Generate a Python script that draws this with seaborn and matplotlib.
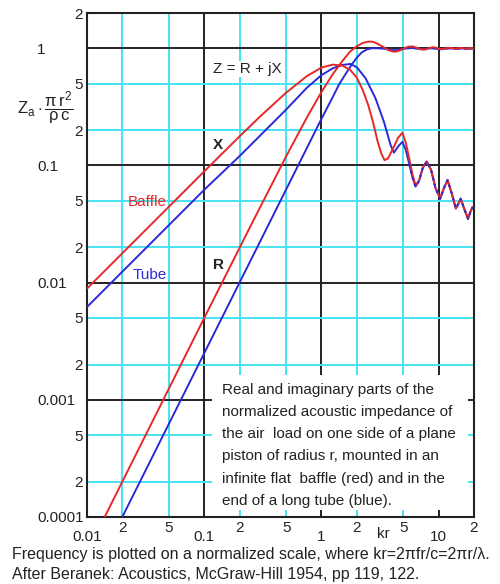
import numpy as np
import pandas as pd
import matplotlib
matplotlib.use("Agg")
import matplotlib.pyplot as plt
import seaborn as sns
from matplotlib.patches import Rectangle

# ---------------- data ----------------
kr_baffle_R = [0.01, 0.05, 0.1, 0.25, 0.5, 0.75, 1.0, 1.25, 1.5, 1.75, 2.0, 2.25, 2.5,
               2.75, 3.0, 3.25, 3.5, 3.75, 4.0, 4.25, 4.5, 4.75, 5.0, 5.5, 6.0, 6.5,
               7.0, 7.5, 8.0, 8.5, 9.0, 9.5, 10.0, 10.5, 11.0, 12.0, 13.0, 14.0, 15.0,
               16.0, 17.0, 18.0, 19.0, 20.0]
R_baffle = [0.00005, 0.00125, 0.005, 0.0308, 0.1198, 0.2561, 0.4233, 0.6023, 0.7739,
            0.935, 1.04, 1.11, 1.14, 1.135, 1.095, 1.047, 1.001, 0.964, 0.941, 0.936,
            0.945, 0.966, 0.991, 1.032, 1.037, 1.011, 0.981, 0.973, 0.989, 1.011, 1.021,
            1.011, 0.994, 0.984, 0.989, 1.013, 0.999, 0.991, 1.008, 1.002, 0.992, 1.005,
            1.003, 0.994]

kr_tube_R = [0.01, 0.1, 0.5, 1.0, 1.25, 1.41, 1.6, 1.8, 2.0, 2.2, 2.45, 2.7, 3.0, 3.5,
             3.9, 4.4, 4.9, 5.5, 6.0, 6.6, 7.5, 8.5, 9.5, 10.5, 11.5, 13.0, 14.0, 15.0,
             16.0, 17.0, 18.0, 19.0, 20.0]
R_tube = [0.000025, 0.0025, 0.0625, 0.25, 0.385, 0.49, 0.6, 0.72, 0.83, 0.92, 0.98, 1.0,
          1.0, 0.99, 0.965, 0.965, 0.985, 1.0, 1.005, 0.99, 0.985, 1.0, 0.99, 0.98, 0.99,
          1.0, 0.985, 0.99, 1.0, 0.985, 0.99, 0.99, 0.995]

kr_baffle_X = [0.01, 0.1, 0.2, 0.3, 0.5, 0.75, 1.0, 1.25, 1.5, 1.75, 2.0, 2.25, 2.5, 2.75,
               3.0, 3.25, 3.45, 3.7, 4.15, 4.5, 4.9, 5.25, 5.6, 6.0, 6.35, 6.8, 7.3, 7.9,
               8.6, 9.4, 10.3, 11.0, 11.9, 12.9, 14.0, 14.7, 15.4, 16.6, 17.8, 18.6, 19.4]
X_baffle = [0.0089, 0.089, 0.177, 0.262, 0.418, 0.578, 0.685, 0.725, 0.712, 0.657, 0.562,
            0.44, 0.33, 0.235, 0.163, 0.125, 0.111, 0.115, 0.145, 0.172, 0.19, 0.155,
            0.115, 0.082, 0.068, 0.074, 0.095, 0.108, 0.092, 0.064, 0.052, 0.063, 0.075,
            0.058, 0.043, 0.047, 0.052, 0.042, 0.035, 0.040, 0.044]

kr_tube_X = [0.01, 0.1, 0.2, 0.3, 0.5, 0.75, 1.0, 1.25, 1.5, 1.77, 2.0, 2.38, 2.89, 3.41,
             3.89, 4.15, 4.5, 4.9, 5.25, 5.6, 6.0, 6.35, 6.8, 7.3, 7.9, 8.6, 9.4, 10.3,
             11.0, 11.9, 12.9, 14.0, 14.7, 15.4, 16.6, 17.8, 18.6, 19.4]
X_tube = [0.0062, 0.062, 0.12, 0.18, 0.3, 0.46, 0.59, 0.675, 0.72, 0.735, 0.69, 0.554,
          0.374, 0.236, 0.149, 0.1285, 0.145, 0.159, 0.135, 0.103, 0.078, 0.066, 0.074,
          0.095, 0.108, 0.092, 0.064, 0.052, 0.063, 0.075, 0.058, 0.043, 0.047, 0.052,
          0.042, 0.035, 0.040, 0.044]

x_major = [0.01, 0.1, 1, 10]
x_major_labels = ["0.01", "0.1", "1", "10"]
x_minor = [0.02, 0.05, 0.2, 0.5, 2, 5, 20]
x_minor_labels = ["2", "5", "2", "5", "2", "5", "2"]
y_major = [1e-4, 1e-3, 1e-2, 1e-1, 1]
y_major_labels = ["0.0001", "0.001", "0.01", "0.1", "1"]
y_minor = [2e-4, 5e-4, 2e-3, 5e-3, 2e-2, 5e-2, 0.2, 0.5, 2]
y_minor_labels = ["2", "5", "2", "5", "2", "5", "2", "5", "2"]

box_lines = ["Real and imaginary parts of the",
             "normalized acoustic impedance of",
             "the air  load on one side of a plane",
             "piston of radius r, mounted in an",
             "infinite flat  baffle (red) and in the",
             "end of a long tube (blue)."]
foot_lines = ["Frequency is plotted on a normalized scale, where kr=2\u03c0fr/c=2\u03c0r/\u03bb.",
              "After Beranek: Acoustics, McGraw-Hill 1954, pp 119, 122."]

RED = "#e82828"
BLUE = "#2a2ad8"
CYAN = "#45e3ef"
DARK = "#222222"

# ---------------- build table ----------------
frames = []
for name, k, v in [("R tube", kr_tube_R, R_tube), ("X tube", kr_tube_X, X_tube),
                   ("R baffle", kr_baffle_R, R_baffle), ("X baffle", kr_baffle_X, X_baffle)]:
    frames.append(pd.DataFrame({"kr": k, "val": v, "curve": name}))
df = pd.concat(frames, ignore_index=True)

# ---------------- figure ----------------
sns.set_theme(style="white")
plt.rcParams["font.family"] = ["Liberation Sans", "DejaVu Sans"]
plt.rcParams["mathtext.fontset"] = "custom"
plt.rcParams["mathtext.rm"] = "Liberation Sans"
plt.rcParams["mathtext.it"] = "Liberation Sans"
plt.rcParams["mathtext.bf"] = "Liberation Sans:bold"

W, H = 500, 584
fig = plt.figure(figsize=(W / 100, H / 100), dpi=100)
fig.patch.set_facecolor("white")
L, R_, T, B = 87, 474, 13, 517
ax = fig.add_axes([L / W, 1 - B / H, (R_ - L) / W, (B - T) / H])
ax.set_facecolor("white")
ax.set_xscale("log")
ax.set_yscale("log")

palette = {"R tube": BLUE, "X tube": BLUE, "R baffle": RED, "X baffle": RED}
sns.lineplot(data=df, x="kr", y="val", hue="curve", units="curve", estimator=None,
             hue_order=["R tube", "X tube", "R baffle", "X baffle"],
             palette=palette, sort=False, lw=1.4, legend=False, ax=ax, zorder=3)
# blue tube reactance tail shows through the coinciding red curve
tail = df[(df["curve"] == "X tube") & (df["kr"] >= 5.6)]
sns.lineplot(data=tail, x="kr", y="val", estimator=None, sort=False, color=BLUE,
             lw=1.4, dashes=False, ax=ax, zorder=4, linestyle=(0, (1.5, 2.0)))

ax.set_xlim(0.01, 20)
ax.set_ylim(1e-4, 2)
ax.set_xlabel("")
ax.set_ylabel("")

ax.set_xticks(x_major, labels=x_major_labels)
ax.set_xticks(x_minor, labels=x_minor_labels, minor=True)
ax.set_yticks(y_major, labels=y_major_labels)
ax.set_yticks(y_minor, labels=y_minor_labels, minor=True)
ax.tick_params(which="both", length=0, labelsize=11, labelcolor=DARK)
ax.tick_params(axis="x", which="major", pad=9.5)
ax.tick_params(axis="x", which="minor", pad=3)
ax.tick_params(axis="y", which="major", pad=36)
ax.tick_params(axis="y", which="minor", pad=3)
for lbl in ax.get_yticklabels():
    lbl.set_horizontalalignment("left")

ax.set_axisbelow(True)
ax.grid(True, which="minor", color=CYAN, lw=1.4)
ax.grid(True, which="major", color=DARK, lw=1.4)
for s in ax.spines.values():
    s.set_color(DARK)
    s.set_linewidth(1.5)

# white box hiding grid in lower right
bx0, bx1 = (212 - L) / (R_ - L), (468 - L) / (R_ - L)
by0, by1 = (B - 510) / (B - T), (B - 375) / (B - T)
ax.add_patch(Rectangle((bx0, by0), bx1 - bx0, by1 - by0, transform=ax.transAxes,
                       facecolor="white", edgecolor="none", zorder=1.5))


def fx(x):
    return x / W


def fy(y):
    return 1 - y / H


fig.text(fx(222), fy(383), "\n".join(box_lines), ha="left", va="top", fontsize=11,
         color=DARK, linespacing=1.74, zorder=5)

fig.text(fx(213), fy(69), "Z = R + jX", ha="left", va="center", fontsize=11, color=DARK,
         bbox=dict(facecolor="white", edgecolor="none", pad=0.5), zorder=5)
fig.text(fx(213), fy(145), "X", ha="left", va="center", fontsize=11,
         fontweight="bold", color=DARK)
fig.text(fx(213), fy(265), "R", ha="left", va="center", fontsize=11,
         fontweight="bold", color=DARK)
fig.text(fx(147), fy(202), "Baffle", ha="center", va="center", fontsize=11, color=RED)
fig.text(fx(150), fy(275), "Tube", ha="center", va="center", fontsize=11, color=BLUE)
fig.text(fx(383), fy(534), "kr", ha="center", va="center", fontsize=11, color=DARK)
fig.text(fx(17), fy(108), r"$\mathrm{Z_a}\cdot\dfrac{\pi\, r^2}{\rho\, c}$", ha="left",
         va="center", fontsize=12, color=DARK)

fig.text(fx(12), fy(555), foot_lines[0], ha="left", va="center", fontsize=11.5, color=DARK)
fig.text(fx(12), fy(575), foot_lines[1], ha="left", va="center", fontsize=11.5, color=DARK)

fig.savefig("out.png", dpi=100, facecolor="white")
